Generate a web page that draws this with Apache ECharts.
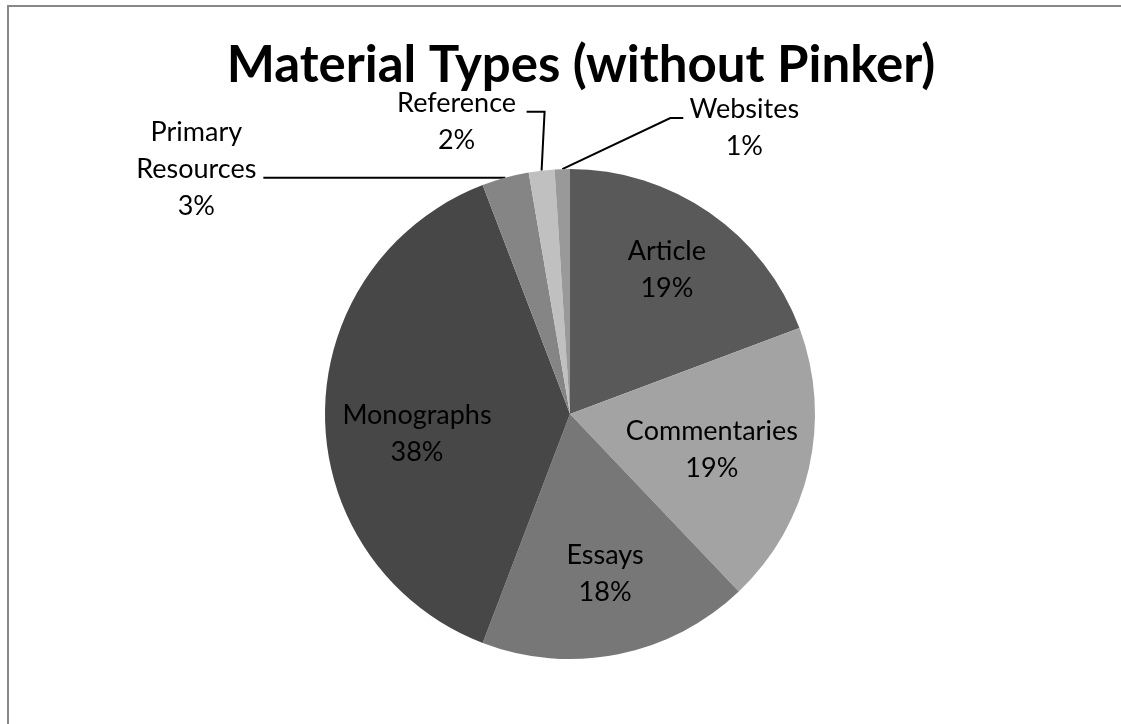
<!DOCTYPE html>
<html>
<head>
<meta charset="utf-8">
<script src="https://cdn.jsdelivr.net/npm/echarts@6/dist/echarts.min.js"></script>
<style>
  html, body { margin: 0; padding: 0; background: #fff; }
  #main { width: 1121px; height: 724px; position: relative; }
  #frame { position: absolute; left: 7px; top: 5px; right: 0; bottom: 0;
           border-top: 2px solid #888; border-left: 2px solid #888; pointer-events: none; }
</style>
</head>
<body>
<div id="main"></div>
<div id="frame"></div>
<script>
var categories = ['Article', 'Commentaries', 'Essays', 'Monographs', 'Primary Resources', 'Reference', 'Websites'];
var shares = [19.3, 18.6, 17.9, 38.4, 3.1, 1.7, 1.0];
var sliceColors = ['#595959', '#a3a3a3', '#777777', '#474747', '#858585', '#c0c0c0', '#999999'];

// leader lines for the three thin slices, as offsets from the slice edge
var leaders = {
  'Primary Resources': { line: [[-120, 0], [-242, 0]], label: [-309, -8] },
  'Reference': { line: [[3, -59], [-15, -59]], label: [-85, -49] },
  'Websites': { line: [[108, -51], [121, -51]], label: [182, -41] }
};
// small nudges for the labels drawn inside the big slices
var insideNudge = {
  'Article': [4, -10],
  'Commentaries': [-17, -1],
  'Essays': [3, 0],
  'Monographs': [10, 20]
};

var font = 'Lato';
var center = [570, 414];
var R = 245;

function labelText(p) {
  return p.name.replace(' ', '\n') + '\n' + Math.round(p.percent) + '%';
}

var chart = echarts.init(document.getElementById('main'));

var pieData = categories.map(function (c, i) {
  return {
    name: c,
    value: shares[i],
    itemStyle: { color: sliceColors[i] },
    label: { show: !!leaders[c] }
  };
});

var innerData = categories.map(function (c, i) {
  return { name: c, value: shares[i], label: { show: !leaders[c] } };
});

chart.setOption({
  animation: false,
  title: {
    text: 'Material Types (without Pinker)',
    left: 576,
    textAlign: 'center',
    top: 35,
    textStyle: { fontFamily: font, fontSize: 51, fontWeight: 'bold', color: '#000' }
  },
  series: [
    {
      type: 'pie',
      center: center,
      radius: R,
      startAngle: 90,
      clockwise: true,
      silent: true,
      itemStyle: { borderWidth: 0 },
      label: {
        position: 'outside',
        formatter: labelText,
        fontFamily: font,
        fontSize: 27,
        lineHeight: 37,
        color: '#000',
        align: 'center'
      },
      labelLine: { show: true, lineStyle: { color: '#000', width: 2 } },
      labelLayout: function (p) {
        var lead = leaders[categories[p.dataIndex]];
        if (!lead || !p.labelLinePoints) return {};
        var a = p.labelLinePoints[0];
        return {
          x: a[0] + lead.label[0],
          y: a[1] + lead.label[1],
          align: 'center',
          verticalAlign: 'middle',
          labelLinePoints: [
            [a[0], a[1]],
            [a[0] + lead.line[0][0], a[1] + lead.line[0][1]],
            [a[0] + lead.line[1][0], a[1] + lead.line[1][1]]
          ]
        };
      },
      data: pieData
    },
    {
      type: 'pie',
      center: center,
      radius: [75, R],
      startAngle: 90,
      clockwise: true,
      silent: true,
      itemStyle: { color: 'rgba(0,0,0,0)', borderWidth: 0 },
      label: {
        position: 'inside',
        formatter: labelText,
        fontFamily: font,
        fontSize: 27,
        lineHeight: 37,
        color: '#000'
      },
      labelLine: { show: false },
      labelLayout: function (p) {
        var n = insideNudge[categories[p.dataIndex]];
        return n ? { dx: n[0], dy: n[1] } : {};
      },
      data: innerData
    }
  ]
});
</script>
</body>
</html>
